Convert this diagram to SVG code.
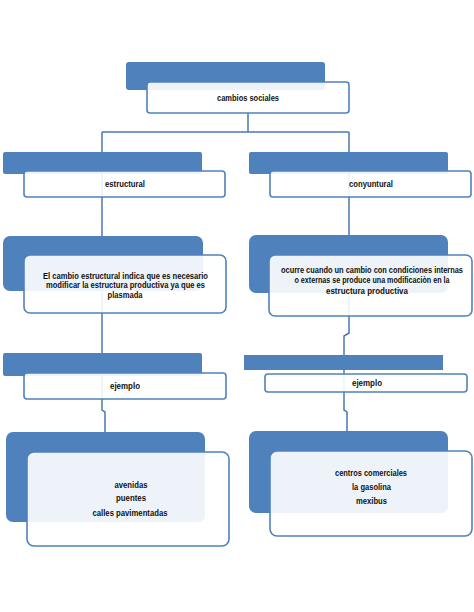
<svg xmlns="http://www.w3.org/2000/svg" width="474" height="612" viewBox="0 0 474 612">
<style>
.bg{fill:#4f81bd}
.wb{fill:#ffffff;fill-opacity:0.9;stroke:#4f81bd;stroke-width:1.6}
.cn{fill:none;stroke:#4a78b2;stroke-width:1.5}
text{font-family:"Liberation Sans",Arial,sans-serif;font-size:8.6px;font-weight:bold;fill:#111;text-anchor:middle}
</style>
<rect width="474" height="612" fill="#ffffff"/>
<g id="connectors">
<path class="cn" d="M248,113 V132 M102,132 H349 M102,132 V410 L105,412 V432 M349,132 V333 L344,336 V410 L347,412 V431"/>
</g>
<g id="n-cambios">
<rect class="bg" x="126" y="62" width="199" height="28" rx="3"/>
<rect class="wb" x="147" y="82" width="202" height="31" rx="3"/>
<text x="248" y="101" textLength="62" lengthAdjust="spacingAndGlyphs">cambios sociales</text>
</g>
<g id="n-estructural">
<rect class="bg" x="3" y="152" width="199" height="22" rx="2"/>
<rect class="wb" x="24" y="171" width="201" height="26" rx="3"/>
<text x="125" y="187" textLength="40" lengthAdjust="spacingAndGlyphs">estructural</text>
</g>
<g id="n-conyuntural">
<rect class="bg" x="249" y="152" width="199" height="22" rx="2"/>
<rect class="wb" x="270" y="171" width="201" height="26" rx="3"/>
<text x="371" y="187" textLength="44" lengthAdjust="spacingAndGlyphs">conyuntural</text>
</g>
<g id="n-def-estructural">
<rect class="bg" x="3" y="236" width="200" height="55" rx="7"/>
<rect class="wb" x="24" y="255" width="202" height="58" rx="6"/>
<text x="125.5" y="278.5" textLength="165" lengthAdjust="spacingAndGlyphs">El cambio estructural  indica que es necesario</text>
<text x="125.5" y="287.5" textLength="159" lengthAdjust="spacingAndGlyphs">modificar la estructura productiva  ya que es</text>
<text x="125" y="297.5" textLength="35" lengthAdjust="spacingAndGlyphs">plasmada</text>
</g>
<g id="n-def-conyuntural">
<rect class="bg" x="249" y="235" width="199" height="58" rx="7"/>
<rect class="wb" x="269" y="255" width="203" height="61" rx="6"/>
<text x="372" y="273" textLength="182" lengthAdjust="spacingAndGlyphs">ocurre cuando un cambio   con condiciones  internas</text>
<text x="372" y="283" textLength="155" lengthAdjust="spacingAndGlyphs">o externas  se produce una modificaciòn  en la</text>
<text x="367" y="294" textLength="82" lengthAdjust="spacingAndGlyphs">estructura productiva</text>
</g>
<g id="n-ejemplo-izq">
<rect class="bg" x="3" y="353" width="199" height="23" rx="2"/>
<rect class="wb" x="24" y="373" width="202" height="26" rx="3"/>
<text x="125" y="389" textLength="30" lengthAdjust="spacingAndGlyphs">ejemplo</text>
</g>
<g id="n-ejemplo-der">
<rect class="bg" x="244" y="355" width="199" height="15"/>
<rect class="wb" x="265" y="374" width="202" height="18" rx="3"/>
<text x="367" y="386" textLength="30" lengthAdjust="spacingAndGlyphs">ejemplo</text>
</g>
<g id="n-ejemplos-estructural">
<rect class="bg" x="6" y="432" width="199" height="90" rx="7"/>
<rect class="wb" x="27" y="452" width="202" height="94" rx="7"/>
<text x="131" y="488" textLength="33" lengthAdjust="spacingAndGlyphs">avenidas</text>
<text x="131" y="501" textLength="30" lengthAdjust="spacingAndGlyphs">puentes</text>
<text x="130" y="516" textLength="75" lengthAdjust="spacingAndGlyphs">calles pavimentadas</text>
</g>
<g id="n-ejemplos-conyuntural">
<rect class="bg" x="249" y="431" width="199" height="82" rx="7"/>
<rect class="wb" x="270" y="451" width="202" height="85" rx="7"/>
<text x="371" y="476" textLength="72" lengthAdjust="spacingAndGlyphs">centros comerciales</text>
<text x="371.5" y="490" textLength="39" lengthAdjust="spacingAndGlyphs">la gasolina</text>
<text x="371.5" y="504" textLength="31" lengthAdjust="spacingAndGlyphs">mexibus</text>
</g>
</svg>
